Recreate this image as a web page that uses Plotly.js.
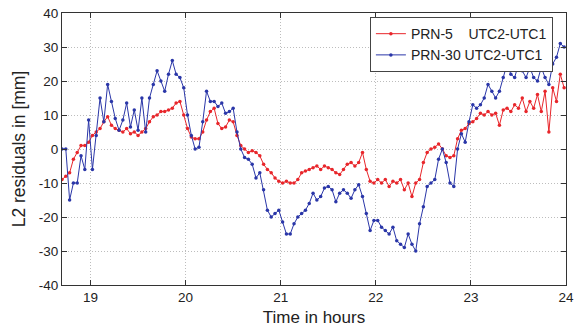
<!DOCTYPE html>
<html>
<head>
<meta charset="utf-8">
<script src="https://cdn.plot.ly/plotly-3.0.1.min.js"></script>
<style>html,body{margin:0;padding:0;background:#fff;}#chart{width:575px;height:331px;}</style>
</head>
<body>
<div id="chart"></div>
<script>
// Time in hours
const timeHours = [
18.70,18.74,18.78,18.82,18.86,18.90,18.94,18.98,
19.02,19.06,19.10,19.14,19.18,19.22,19.26,19.30,19.34,19.38,19.42,19.46,19.50,19.54,19.58,19.62,19.66,19.70,19.74,19.78,19.82,19.86,19.90,19.94,19.98,
20.02,20.06,20.10,20.14,20.18,20.22,20.26,20.30,20.34,20.38,20.42,20.46,20.50,20.54,20.58,20.62,20.66,20.70,20.74,20.78,20.82,20.86,20.90,20.94,20.98,
21.02,21.06,21.10,21.14,21.18,21.22,21.26,21.30,21.34,21.38,21.42,21.46,21.50,21.54,21.58,21.62,21.66,21.70,21.74,21.78,21.82,21.86,21.90,21.94,21.98,
22.02,22.06,22.10,22.14,22.18,22.22,22.26,22.30,22.34,22.38,22.42,22.46,22.50,22.54,22.58,22.62,22.66,22.70,22.74,22.78,22.82,22.86,22.90,22.94,22.98,
23.02,23.06,23.10,23.14,23.18,23.22,23.26,23.30,23.34,23.38,23.42,23.46,23.50,23.54,23.58,23.62,23.66,23.70,23.74,23.78,23.82,23.86,23.90,23.94,23.98
];

// PRN-5 UTC2-UTC1 residuals [mm]
const prn5 = [
-9,-8,-7,-3,-1,1,1,2,
4,5,6,8,9.5,7,6,5.5,5,6,4.5,5,4,5,6,8,9.5,10,11,11,11.5,12,13.5,14,10,
6,3.5,3,3,5,8.5,11,12,7.5,6,6.5,8.5,8,4,1,0,-1,-0.5,-1,-2,-4.5,-6,-7,-8.5,-9.5,
-10,-9.5,-10,-10,-9,-7,-6.5,-6,-5.5,-5,-6,-5,-5.5,-6,-7,-7.5,-6,-4.5,-4,-5,-4,-1,-6,-9.5,-10,
-9,-10,-9,-11,-9.5,-10,-9,-12,-10,-14,-10,-9,-4,-1,0,0.5,1.5,0,-2,-2.5,-2,3,5.5,6,7.5,
8,9,10.5,10,11,10,10.5,7,11.5,12,11,13,12,15,11,14,12,16,11,17,5,18,14,22,18
];

// PRN-30 UTC2-UTC1 residuals [mm]
const prn30 = [
0,0,-15,-10,-10,-2,-6,8.5,
-6,4,15,8,19,14,9,5.5,8.5,13.5,6.5,11.5,5.5,15,5,15,19,23,20,17,22,26,22,21,18,
10,4,0,0.5,8,17,14,14,12.5,13.5,10.5,11,12,5,0,-2.5,-3,-4.5,-8.5,-7,-12,-18,-20,-19,-18,
-21.5,-25,-25,-22,-20,-19,-18,-16,-13,-15,-14,-11.5,-11,-12,-15.5,-13,-12,-13,-14.5,-12,-10.5,-14,-19,-24,-21,
-21,-23,-24,-25,-23,-27,-28,-29,-25,-28,-30,-22,-17,-11,-10,-9,-3,0,-4,-10,-11,0,4.5,2,8,
13,12,13,15,19,17,15,17,21,25,22,21,25,23,21,24,21,20,24,21,19,25,27,31,30
];

const seriesNames = ['PRN-5\u00a0\u00a0\u00a0 UTC2-UTC1', 'PRN-30 UTC2-UTC1'];
const xTicks = [19, 20, 21, 22, 23, 24];
const yTicks = [-40, -30, -20, -10, 0, 10, 20, 30, 40];

const red = '#e8262b';
const blue = '#2a36a8';

const traces = [
  {x: timeHours, y: prn5, name: seriesNames[0], type: 'scatter', mode: 'lines+markers',
   line: {color: red, width: 1}, marker: {color: red, size: 3.5}},
  {x: timeHours, y: prn30, name: seriesNames[1], type: 'scatter', mode: 'lines+markers',
   line: {color: blue, width: 1}, marker: {color: blue, size: 3.5}}
];

const axisCommon = {
  showline: true, linecolor: '#333', linewidth: 1, mirror: 'ticks',
  ticks: 'inside', ticklen: 5, tickcolor: '#333',
  showgrid: true, gridcolor: '#bdbdbd', griddash: '1px,2px', gridwidth: 1,
  zeroline: false, tickfont: {family: 'Liberation Sans, Arial, sans-serif', size: 13.5, color: '#222'}
};

const layout = {
  width: 575, height: 331,
  margin: {l: 62, r: 9, t: 13, b: 46},
  paper_bgcolor: '#fff', plot_bgcolor: '#fff',
  showlegend: true,
  legend: {x: 0.974, y: 0.985, xanchor: 'right', yanchor: 'top',
    bgcolor: '#fff', bordercolor: '#444', borderwidth: 1,
    font: {family: 'Liberation Sans, Arial, sans-serif', size: 14, color: '#222'},
    tracegroupgap: 0, itemwidth: 30},
  xaxis: Object.assign({}, axisCommon, {
    range: [18.7, 24], tickvals: xTicks, ticktext: xTicks.map(String),
    title: {text: 'Time in hours', standoff: 6, font: {family: 'Liberation Sans, Arial, sans-serif', size: 17, color: '#222'}}
  }),
  yaxis: Object.assign({}, axisCommon, {
    range: [-40, 40], tickvals: yTicks, ticktext: yTicks.map(String),
    title: {text: 'L2 residuals in [mm]', standoff: 8, font: {family: 'Liberation Sans, Arial, sans-serif', size: 17.5, color: '#222'}}
  })
};

Plotly.newPlot('chart', traces, layout, {displayModeBar: false, staticPlot: true});
</script>
</body>
</html>
